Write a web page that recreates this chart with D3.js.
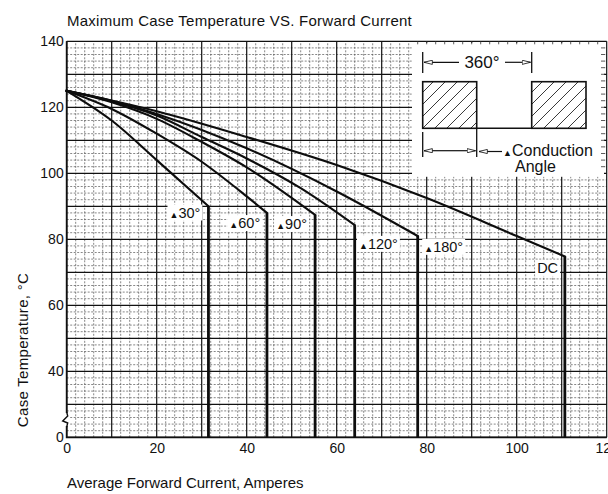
<!DOCTYPE html>
<html>
<head>
<meta charset="utf-8">
<script src="https://cdn.jsdelivr.net/npm/d3@7"></script>
<style>
	body { margin: 0; background: #fff; }
	svg { display: block; }
	text { font-family: "Liberation Sans", Arial, sans-serif; fill: #111; }
</style>
</head>
<body>
<div id="chart"></div>
<script>
// values
const angles = ["30°", "60°", "90°", "120°", "180°", "DC"];

const curve30 = [[0, 125], [10, 116], [20, 104], [31.5, 90]];
const curve60 = [[0, 125], [10, 119.5], [20, 112], [30, 103.5], [40, 93], [44.5, 88]];
const curve90 = [[0, 125], [10, 121.5], [20, 116.5], [30, 109.5], [40, 101.8], [55.2, 87.4]];
const curve120 = [[0, 125], [10, 121.8], [20, 117.5], [30, 111], [40, 104.5], [52, 95.5], [64, 84.3]];
const curve180 = [[0, 125], [10, 122], [20, 118], [40, 107.6], [60, 94.5], [78, 81]];
const curveDC = [[0, 125], [20, 118.8], [40, 111], [60, 102.5], [80, 92.5], [100, 81], [110.7, 74.8]];

const curves = [curve30, curve60, curve90, curve120, curve180, curveDC];

const xTicks = [0, 20, 40, 60, 80, 100, 120];
const yTicks = [20, 40, 60, 80, 100, 120, 140];
const yTickLabels = ["0", "40", "60", "80", "100", "120", "140"]; // axis is broken below 40

// where each curve label sits (right end of text, baseline), in axis units
const labelPos = [[29.7, 86.6], [43, 83.4], [53.4, 83.1], [73.6, 77.1], [88.1, 76.2], [109.2, 69.8]];

const W = 608, H = 494;

const svg = d3.select("#chart")
	.append("svg")
	.attr("width", W)
	.attr("height", H);

const x = d3.scaleLinear().domain([0, 120]).range([66.7, 606.7]);
const y = d3.scaleLinear().domain([20, 140]).range([437.3, 41.3]);

// Grid
const grid = svg.append("g");
grid.selectAll(".vminor")
	.data(d3.range(0, 121, 2).filter(d => d % 10 !== 0))
	.join("line")
	.attr("x1", d => x(d)).attr("x2", d => x(d))
	.attr("y1", y(20)).attr("y2", y(140))
	.attr("stroke", "#555")
	.attr("stroke-width", 0.7)
	.attr("stroke-dasharray", "2,1.5");
grid.selectAll(".hminor")
	.data(d3.range(20, 141, 2).filter(d => d % 10 !== 0))
	.join("line")
	.attr("y1", d => y(d)).attr("y2", d => y(d))
	.attr("x1", x(0)).attr("x2", x(120))
	.attr("stroke", "#555")
	.attr("stroke-width", 0.7)
	.attr("stroke-dasharray", "2,1.5");
grid.selectAll(".vmajor")
	.data(d3.range(0, 121, 10))
	.join("line")
	.attr("x1", d => x(d)).attr("x2", d => x(d))
	.attr("y1", y(20)).attr("y2", y(140))
	.attr("stroke", "#111")
	.attr("stroke-width", 1.2);
grid.selectAll(".hmajor")
	.data(d3.range(20, 141, 10))
	.join("line")
	.attr("y1", d => y(d)).attr("y2", d => y(d))
	.attr("x1", x(0)).attr("x2", x(120))
	.attr("stroke", "#111")
	.attr("stroke-width", 1.2);

// left and bottom frame
svg.append("path")
	.attr("d", `M${x(0)},${y(140)}V${y(20)}H${x(120)}`)
	.attr("fill", "none")
	.attr("stroke", "#111")
	.attr("stroke-width", 1.8);

// axis break mark
svg.append("rect")
	.attr("x", x(0) - 3).attr("y", 413).attr("width", 6).attr("height", 13)
	.attr("fill", "#fff");
svg.append("path")
	.attr("d", `M${x(0)},412 L${x(0) + 1},416 L${x(0) - 4},421 L${x(0) + 1},423 L${x(0)},427`)
	.attr("fill", "none")
	.attr("stroke", "#111")
	.attr("stroke-width", 1.4);

// Inset (waveform sketch) - white panel over the grid
const inset = svg.append("g");
inset.append("rect")
	.attr("x", 412).attr("y", y(140) + 1.5)
	.attr("width", 192).attr("height", 134)
	.attr("fill", "#fff");
// tick stubs along the top and right of the panel
inset.selectAll(".tt")
	.data(d3.range(78, 120, 2))
	.join("line")
	.attr("x1", d => x(d)).attr("x2", d => x(d))
	.attr("y1", y(140)).attr("y2", y(140) + 3)
	.attr("stroke", "#333").attr("stroke-width", 0.8);
inset.selectAll(".rt")
	.data(d3.range(102, 140, 2))
	.join("line")
	.attr("x1", 601).attr("x2", 605)
	.attr("y1", d => y(d)).attr("y2", d => y(d))
	.attr("stroke", "#333").attr("stroke-width", 0.8);

const defs = svg.append("defs");
defs.append("marker")
	.attr("id", "arr")
	.attr("viewBox", "0 0 10 6")
	.attr("refX", 10).attr("refY", 3)
	.attr("markerWidth", 9).attr("markerHeight", 5)
	.attr("markerUnits", "userSpaceOnUse")
	.attr("orient", "auto-start-reverse")
	.append("path")
	.attr("d", "M0,0.5 L10,3 L0,5.5 Z")
	.attr("fill", "#fff")
	.attr("stroke", "#111")
	.attr("stroke-width", 1);

const boxes = [[422.7, 81.7, 54, 46.6], [531.7, 81.7, 54.3, 46.6]];
boxes.forEach((b, i) => {
	defs.append("clipPath").attr("id", "cb" + i)
		.append("rect").attr("x", b[0]).attr("y", b[1]).attr("width", b[2]).attr("height", b[3]);
	inset.append("g")
		.attr("clip-path", `url(#cb${i})`)
		.selectAll("line")
		.data(d3.range(-60, 70, 12))
		.join("line")
		.attr("x1", d => b[0] + d).attr("y1", b[1] + b[3])
		.attr("x2", d => b[0] + d + b[3]).attr("y2", b[1])
		.attr("stroke", "#222").attr("stroke-width", 0.9);
	inset.append("rect")
		.attr("x", b[0]).attr("y", b[1]).attr("width", b[2]).attr("height", b[3])
		.attr("fill", "none").attr("stroke", "#111").attr("stroke-width", 1.6);
});
inset.append("line")
	.attr("x1", 476.7).attr("x2", 531.7).attr("y1", 128.3).attr("y2", 128.3)
	.attr("stroke", "#111").attr("stroke-width", 1.6);

// 360° dimension
inset.append("line").attr("x1", 422.7).attr("x2", 422.7).attr("y1", 52).attr("y2", 73).attr("stroke", "#111").attr("stroke-width", 1.3);
inset.append("line").attr("x1", 531.7).attr("x2", 531.7).attr("y1", 52).attr("y2", 73).attr("stroke", "#111").attr("stroke-width", 1.3);
inset.append("line").attr("x1", 459).attr("x2", 424).attr("y1", 62.3).attr("y2", 62.3)
	.attr("stroke", "#111").attr("stroke-width", 1.2).attr("marker-end", "url(#arr)");
inset.append("line").attr("x1", 505).attr("x2", 530.5).attr("y1", 62.3).attr("y2", 62.3)
	.attr("stroke", "#111").attr("stroke-width", 1.2).attr("marker-end", "url(#arr)");
inset.append("text")
	.attr("x", 482).attr("y", 68)
	.attr("text-anchor", "middle")
	.style("font-size", "17px")
	.text("360°");

// conduction angle dimension
inset.append("line").attr("x1", 422.7).attr("x2", 422.7).attr("y1", 132).attr("y2", 157).attr("stroke", "#111").attr("stroke-width", 1.3);
inset.append("line").attr("x1", 476.7).attr("x2", 476.7).attr("y1", 128).attr("y2", 157).attr("stroke", "#111").attr("stroke-width", 1.3);
inset.append("line").attr("x1", 450).attr("x2", 424).attr("y1", 150.7).attr("y2", 150.7)
	.attr("stroke", "#111").attr("stroke-width", 1.2).attr("marker-end", "url(#arr)");
inset.append("line").attr("x1", 450).attr("x2", 475.5).attr("y1", 150.7).attr("y2", 150.7)
	.attr("stroke", "#111").attr("stroke-width", 1.2).attr("marker-end", "url(#arr)");
inset.append("line").attr("x1", 502).attr("x2", 479).attr("y1", 151.5).attr("y2", 151.5)
	.attr("stroke", "#111").attr("stroke-width", 1.2).attr("marker-end", "url(#arr)");
const cond = inset.append("text")
	.attr("x", 503).attr("y", 156)
	.style("font-size", "16px");
cond.append("tspan").style("font-size", "9px").text("▲");
cond.append("tspan").text("Conduction");
inset.append("text")
	.attr("x", 515).attr("y", 172)
	.style("font-size", "16px")
	.text("Angle");

// Curves: smooth derating line, then a heavy straight drop to the axis at the current limit
const line = d3.line()
	.x(d => x(d[0]))
	.y(d => y(d[1]))
	.curve(d3.curveMonotoneX);

const curveG = svg.append("g");
curveG.selectAll(".drop")
	.data(curves)
	.join("line")
	.attr("x1", d => x(d[d.length - 1][0]))
	.attr("x2", d => x(d[d.length - 1][0]))
	.attr("y1", d => y(d[d.length - 1][1]))
	.attr("y2", y(20))
	.attr("stroke", "#0d0d0d")
	.attr("stroke-width", 2.8);
curveG.selectAll(".curve")
	.data(curves)
	.join("path")
	.attr("d", line)
	.attr("fill", "none")
	.attr("stroke", "#0d0d0d")
	.attr("stroke-width", 2.1)
	.attr("stroke-linecap", "square");

// Curve labels, knocked out of the grid
const labels = svg.append("g")
	.selectAll("g")
	.data(angles)
	.join("g");

labels.each(function (d, i) {
	const g = d3.select(this);
	const bg = g.append("rect").attr("fill", "#fff");
	const t = g.append("text")
		.attr("x", x(labelPos[i][0]))
		.attr("y", y(labelPos[i][1]))
		.attr("text-anchor", "end")
		.style("font-size", "14.5px");
	if (d !== "DC") {
		t.append("tspan").style("font-size", "9px").text("▲");
	}
	t.append("tspan").text(d);
	const bb = t.node().getBBox();
	bg.attr("x", bb.x - 2).attr("y", bb.y).attr("width", bb.width + 4).attr("height", bb.height);
});

// Axes
const yAxis = svg.append("g")
	.attr("transform", `translate(${x(0)},0)`)
	.call(d3.axisLeft(y)
		.tickValues(yTicks)
		.tickSize(0)
		.tickPadding(3)
		.tickFormat((d, i) => yTickLabels[i]));
yAxis.select(".domain").remove();
yAxis.selectAll("text")
	.style("font-size", "14px")
	.style("font-family", '"Liberation Sans", Arial, sans-serif')
	.attr("fill", "#111");

const xAxis = svg.append("g")
	.attr("transform", `translate(0,${y(20)})`)
	.call(d3.axisBottom(x)
		.tickValues(xTicks)
		.tickSize(0)
		.tickPadding(6));
xAxis.select(".domain").remove();
xAxis.selectAll("text")
	.style("font-size", "14px")
	.style("font-family", '"Liberation Sans", Arial, sans-serif')
	.attr("fill", "#111");

// Titles
svg.append("text")
	.attr("x", 67)
	.attr("y", 26)
	.style("font-size", "15px")
	.style("letter-spacing", "0.25px")
	.text("Maximum Case Temperature VS. Forward Current");

svg.append("text")
	.attr("x", 67)
	.attr("y", 488)
	.style("font-size", "15px")
	.text("Average Forward Current, Amperes");

svg.append("text")
	.attr("transform", "translate(28,350)rotate(-90)")
	.attr("text-anchor", "middle")
	.style("font-size", "15px")
	.style("letter-spacing", "0.3px")
	.text("Case Temperature, °C");
</script>
</body>
</html>
